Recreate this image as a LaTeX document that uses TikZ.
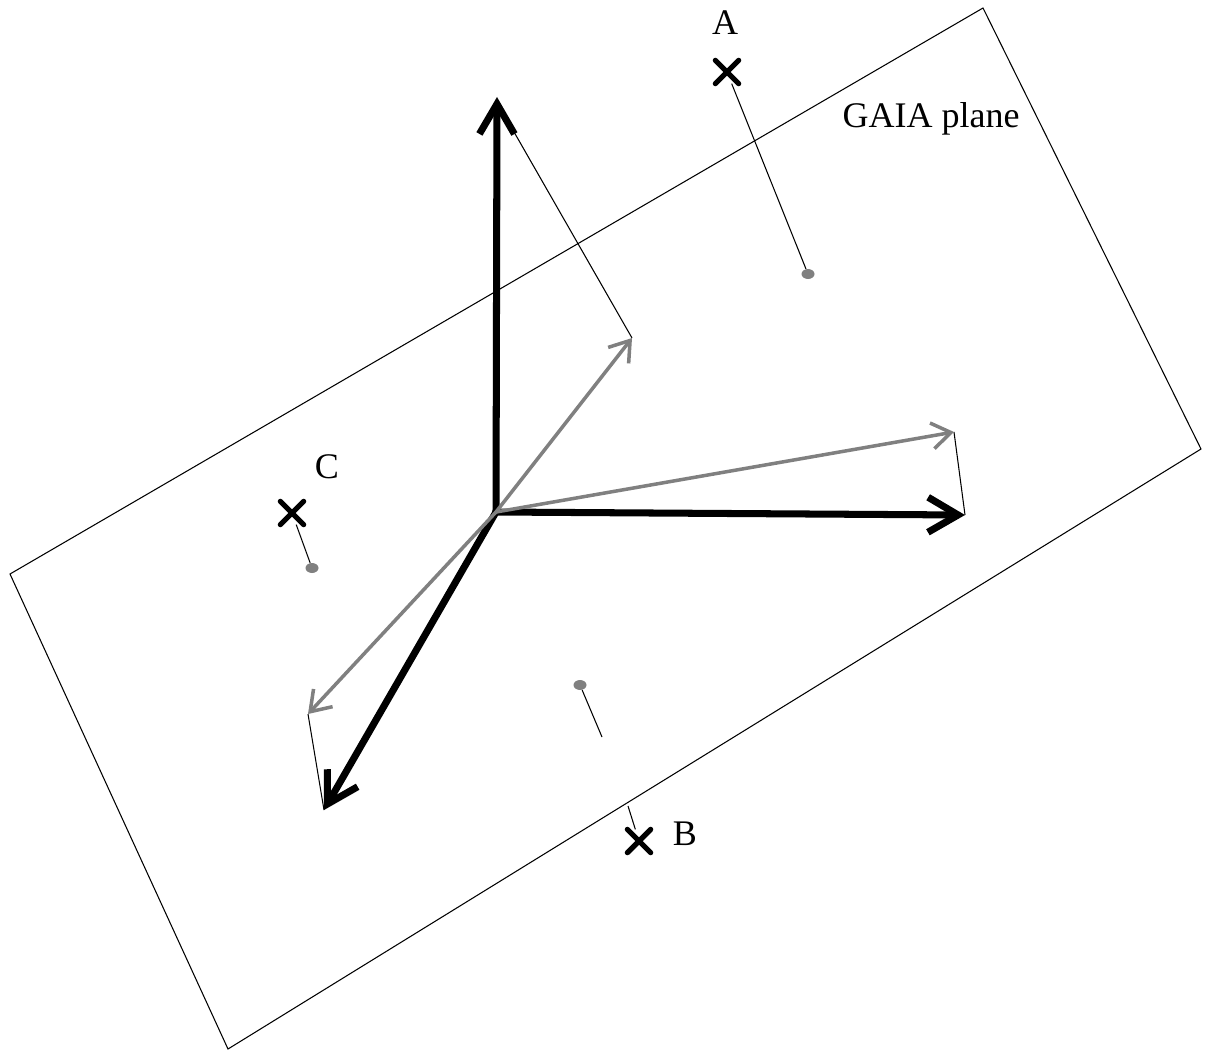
\documentclass[tikz,border=0pt]{standalone}
\usepackage{fontspec}
\setmainfont{Liberation Serif}
\usepackage{xcolor}
\usepackage{tikz}
\usetikzlibrary{arrows.meta,shapes.misc,shapes.geometric}
\definecolor{gris}{HTML}{808080}

\begin{document}
\begin{tikzpicture}[
  x=0.02cm, y=-0.02cm,
  font=\fontsize{20.5}{24}\selectfont,
  eje/.style={-{Straight Barb[length=6mm, width=7mm]}, line width=4pt, line cap=round, line join=round},
  proy/.style={gris, -{Straight Barb[length=3.8mm, width=5.2mm]}, line width=2pt, line cap=round, line join=round},
  guia/.style={line width=0.6pt},
  cruz/.style={cross out, draw, line width=3pt, line cap=round, minimum size=0.36cm, inner sep=0pt},
  punto/.style={ellipse, fill=gris, minimum width=0.26cm, minimum height=0.2cm, inner sep=0pt}
]
  \useasboundingbox (0,0) rectangle (1209,1051);

  % plano GAIA
  \coordinate (pl1) at (10,574);
  \coordinate (pl2) at (983,8);
  \coordinate (pl3) at (1201,449);
  \coordinate (pl4) at (228,1049);
  \draw[guia] (pl1) -- (pl2) -- (pl3) -- (pl4) -- cycle;
  \node (plano) at (931,119) {GAIA plane};

  % ejes y proyecciones
  \coordinate (o) at (496,512);
  \coordinate (ejeZ) at (497,97);
  \coordinate (ejeX) at (965,515);
  \coordinate (ejeY) at (324,810);
  \coordinate (proyZ) at (632,338);
  \coordinate (proyX) at (954,432);
  \coordinate (proyY) at (308,714);
  \draw[guia] (proyZ) -- (506,118);
  \draw[guia] (proyX) -- (ejeX);
  \draw[guia] (proyY) -- (ejeY);
  \draw[eje] (o) -- (ejeZ);
  \draw[eje] (o) -- (ejeX);
  \draw[eje] (o) -- (ejeY);
  \draw[proy] (o) -- (proyZ);
  \draw[proy] (o) -- (proyX);
  \draw[proy] (o) -- (proyY);

  % puntos A, B, C
  \node[cruz] (xA) at (727,72) {};
  \node[punto] (dA) at (808,274) {};
  \node (lA) at (725,23) {A};
  \draw[guia] (xA) -- (dA);

  \node[cruz] (xC) at (292,513) {};
  \node[punto] (dC) at (312,568) {};
  \node (lC) at (327,467) {C};
  \draw[guia] (xC) -- (dC);

  \node[cruz] (xB) at (639,841) {};
  \node[punto] (dB) at (580,685) {};
  \node (lB) at (685,834) {B};
  \coordinate (bCorte1) at (602,737);
  \coordinate (bCorte2) at (628,806);
  \draw[guia] (dB) -- (bCorte1);
  \draw[guia] (bCorte2) -- (xB);
\end{tikzpicture}
\end{document}
